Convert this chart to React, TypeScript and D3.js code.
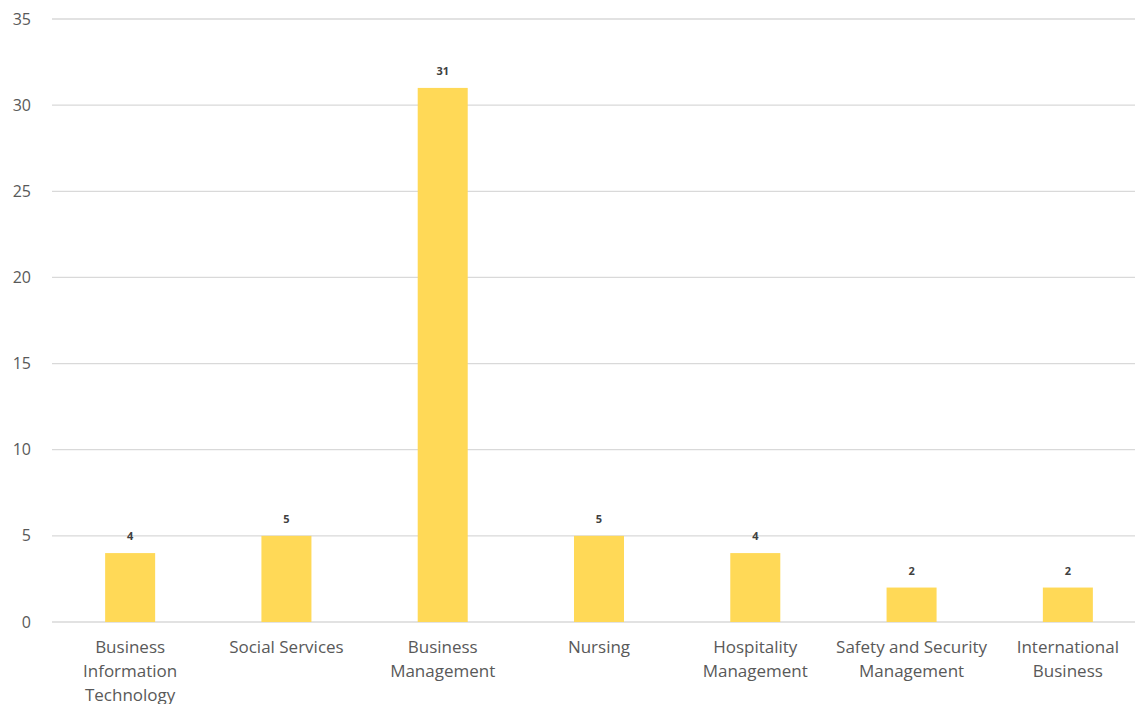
import React from "react";
import * as d3 from "d3";

const categories: string[][] = [
  ["Business", "Information", "Technology"],
  ["Social Services"],
  ["Business", "Management"],
  ["Nursing"],
  ["Hospitality", "Management"],
  ["Safety and Security", "Management"],
  ["International", "Business"],
];
const values: number[] = [4, 5, 31, 5, 4, 2, 2];
const yTicks: number[] = [0, 5, 10, 15, 20, 25, 30, 35];

const W = 1135;
const H = 704;
const left = 52;
const right = 1146;
const top = 19;
const bottom = 622;
const FONT = "'Open Sans', Lato, sans-serif";

export default function App() {
  const keys = categories.map((c) => c.join(" "));
  const x = d3
    .scaleBand<string>()
    .domain(keys)
    .range([left, right])
    .paddingInner(0.68)
    .paddingOuter(0.34);
  const y = d3.scaleLinear().domain([0, 35]).range([bottom, top]);

  return (
    <svg
      width={W}
      height={H}
      style={{ position: "absolute", left: 0, top: 0, display: "block", background: "#fff" }}
    >
      {yTicks.map((t) => (
        <g key={t}>
          <line x1={left} x2={W} y1={y(t)} y2={y(t)} stroke="#d9d9d9" strokeWidth={1.3} />
          <text
            x={31}
            y={y(t)}
            dy="0.35em"
            textAnchor="end"
            fontFamily={FONT}
            fontSize={16}
            fill="#595959"
          >
            {t}
          </text>
        </g>
      ))}
      {values.map((v, i) => {
        const k = keys[i];
        const bx = x(k)!;
        return (
          <g key={k}>
            <rect x={bx} y={y(v)} width={x.bandwidth()} height={y(0) - y(v)} fill="#FFD957" />
            <text
              x={bx + x.bandwidth() / 2}
              y={y(v) - 13}
              textAnchor="middle"
              fontFamily={FONT}
              fontSize={11}
              fontWeight={700}
              fill="#404040"
            >
              {v}
            </text>
            {categories[i].map((line, j) => (
              <text
                key={j}
                x={bx + x.bandwidth() / 2}
                y={653 + j * 24}
                textAnchor="middle"
                fontFamily={FONT}
                fontSize={17}
                fill="#595959"
              >
                {line}
              </text>
            ))}
          </g>
        );
      })}
    </svg>
  );
}
